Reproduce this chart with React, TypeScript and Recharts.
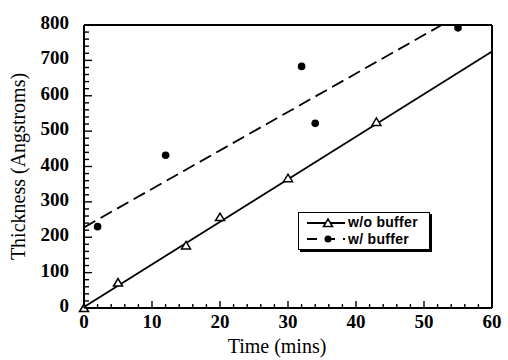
import React from 'react';
import { ComposedChart, XAxis, YAxis, Scatter, Line, Legend } from 'recharts';

// Measured points
const woTime = [0, 5, 15, 20, 30, 43];
const woThick = [0, 72, 177, 257, 367, 526];
const wTime = [2, 12, 32, 34, 55];
const wThick = [230, 432, 683, 522, 792];
// Fit lines (endpoints)
const woFitTime = [0, 60];
const woFitThick = [3, 725];
const wFitTime = [0, 52.6];
const wFitThick = [228, 800];
// Tick labels
const xTickLabels = [0, 10, 20, 30, 40, 50, 60];
const yTickLabels = [0, 100, 200, 300, 400, 500, 600, 700, 800];
const xAllTicks = Array.from({ length: 31 }, (_, i) => i * 2);
const yAllTicks = Array.from({ length: 41 }, (_, i) => i * 20);

const seriesNames = ['w/o buffer', 'w/ buffer'];

const woData = woTime.map((x, i) => ({ x, y: woThick[i] }));
const wData = wTime.map((x, i) => ({ x, y: wThick[i] }));
const woFit = woFitTime.map((x, i) => ({ x, y: woFitThick[i] }));
const wFit = wFitTime.map((x, i) => ({ x, y: wFitThick[i] }));

const SERIF = "'Liberation Serif','Times New Roman',serif";
const SANS = "'Liberation Sans',Arial,sans-serif";
const MAJOR = 7;
const MINOR = 4;
const TW = 1.4;

const BottomTick = (p: any) => {
  const v = p.payload.value;
  const major = xTickLabels.includes(v);
  return (
    <g>
      <line x1={p.x} x2={p.x} y1={p.y} y2={p.y - (major ? MAJOR : MINOR)} stroke="#000" strokeWidth={TW} />
      {major && (
        <text x={p.x} y={p.y + 20} textAnchor="middle" fontFamily={SERIF} fontWeight="bold" fontSize={19} fill="#000">
          {v}
        </text>
      )}
    </g>
  );
};
const TopTick = (p: any) => {
  const v = p.payload.value;
  const major = xTickLabels.includes(v);
  return <line x1={p.x} x2={p.x} y1={p.y} y2={p.y + (major ? MAJOR : MINOR)} stroke="#000" strokeWidth={TW} />;
};
const LeftTick = (p: any) => {
  const v = p.payload.value;
  const major = yTickLabels.includes(v);
  return (
    <g>
      <line x1={p.x} x2={p.x + (major ? MAJOR + 1 : MINOR + 1)} y1={p.y} y2={p.y} stroke="#000" strokeWidth={TW} />
      {major && (
        <text x={p.x - 15} y={p.y + 4} textAnchor="end" fontFamily={SERIF} fontWeight="bold" fontSize={19} fill="#000">
          {v}
        </text>
      )}
    </g>
  );
};
const RightTick = (p: any) => {
  const v = p.payload.value;
  const major = yTickLabels.includes(v);
  return <line x1={p.x} x2={p.x - (major ? MAJOR : MINOR)} y1={p.y} y2={p.y} stroke="#000" strokeWidth={TW} />;
};

const Triangle = (p: any) => {
  const { cx, cy } = p;
  if (cx == null || cy == null) return <g />;
  return (
    <polygon
      points={`${cx - 4.5},${cy + 3.5} ${cx + 4.5},${cy + 3.5} ${cx},${cy - 4}`}
      fill="#fff"
      stroke="#000"
      strokeWidth={1.5}
    />
  );
};
const Dot = (p: any) => {
  const { cx, cy } = p;
  if (cx == null || cy == null) return <g />;
  return <circle cx={cx} cy={cy} r={3.8} fill="#000" />;
};

const XTitle = (props: any) => {
  const vb = props.viewBox;
  return (
    <text x={vb.x + vb.width / 2 - 11} y={vb.y + 45} textAnchor="middle" fontFamily={SERIF} fontSize={20} fill="#000">
      Time (mins)
    </text>
  );
};
const YTitle = (props: any) => {
  const vb = props.viewBox;
  const cx = 18;
  const cy = vb.y + vb.height / 2;
  return (
    <text
      x={cx}
      y={cy}
      transform={`rotate(-90 ${cx} ${cy})`}
      textAnchor="middle"
      dominantBaseline="central"
      fontFamily={SERIF}
      fontSize={20}
      fill="#000"
    >
      Thickness (Angstroms)
    </text>
  );
};

const LegendBox = () => (
  <div
    style={{
      boxSizing: 'border-box',
      width: 132,
      height: 38,
      border: '1.5px solid #000',
      boxShadow: '2px 2px 0 #000',
      background: '#fff',
      fontFamily: SANS,
      fontWeight: 'bold',
      fontSize: 14,
      color: '#000',
      paddingTop: 1,
    }}
  >
    <div style={{ display: 'flex', alignItems: 'center', height: 17 }}>
      <svg width={48} height={14} style={{ display: 'block' }}>
        <line x1={8} x2={46} y1={7} y2={7} stroke="#000" strokeWidth={1.8} />
        <polygon points="24.5,10.5 33.5,10.5 29,3" fill="#fff" stroke="#000" strokeWidth={1.5} />
      </svg>
      <span style={{ marginLeft: 1, lineHeight: '15px', letterSpacing: 0.3 }}>{seriesNames[0]}</span>
    </div>
    <div style={{ display: 'flex', alignItems: 'center', height: 16 }}>
      <svg width={48} height={14} style={{ display: 'block' }}>
        <line x1={8} x2={46} y1={7} y2={7} stroke="#000" strokeWidth={1.8} strokeDasharray="10 8" />
        <circle cx={29} cy={7} r={3.5} fill="#000" />
      </svg>
      <span style={{ marginLeft: 1, lineHeight: '15px', letterSpacing: 0.3 }}>{seriesNames[1]}</span>
    </div>
  </div>
);

export default function App() {
  return (
    <div style={{ position: 'absolute', left: 0, top: 0, width: 508, height: 360, background: '#fff' }}>
      <ComposedChart width={508} height={360} margin={{ top: 24, right: 15, bottom: 0, left: 0 }}>
        <XAxis
          dataKey="x"
          type="number"
          domain={[0, 60]}
          ticks={xAllTicks}
          interval={0}
          tickSize={0}
          tickMargin={0}
          tickLine={false}
          tick={<BottomTick />}
          height={52}
          axisLine={{ stroke: '#000', strokeWidth: 2 }}
          label={XTitle}
        />
        <XAxis
          xAxisId="top"
          orientation="top"
          dataKey="x"
          type="number"
          domain={[0, 60]}
          ticks={xAllTicks}
          interval={0}
          tickSize={0}
          tickMargin={0}
          tickLine={false}
          tick={<TopTick />}
          height={1}
          axisLine={{ stroke: '#000', strokeWidth: 2 }}
        />
        <YAxis
          dataKey="y"
          type="number"
          domain={[0, 800]}
          ticks={yAllTicks}
          interval={0}
          tickSize={0}
          tickMargin={0}
          tickLine={false}
          tick={<LeftTick />}
          width={84}
          axisLine={{ stroke: '#000', strokeWidth: 2 }}
          label={YTitle}
        />
        <YAxis
          yAxisId="r"
          orientation="right"
          dataKey="y"
          type="number"
          domain={[0, 800]}
          ticks={yAllTicks}
          interval={0}
          tickSize={0}
          tickMargin={0}
          tickLine={false}
          tick={<RightTick />}
          width={1}
          axisLine={{ stroke: '#000', strokeWidth: 2 }}
        />
        <Line
          data={woFit}
          dataKey="y"
          type="linear"
          stroke="#000"
          strokeWidth={1.8}
          dot={false}
          activeDot={false}
          isAnimationActive={false}
          legendType="none"
        />
        <Line
          data={wFit}
          dataKey="y"
          type="linear"
          stroke="#000"
          strokeWidth={1.8}
          strokeDasharray="13 6"
          dot={false}
          activeDot={false}
          isAnimationActive={false}
          legendType="none"
        />
        <Scatter name={seriesNames[0]} data={woData} dataKey="y" shape={Triangle} isAnimationActive={false} />
        <Scatter name={seriesNames[1]} data={wData} dataKey="y" shape={Dot} isAnimationActive={false} />
        <Legend
          layout="horizontal"
          verticalAlign="middle"
          align="center"
          content={() => <LegendBox />}
          wrapperStyle={{ left: 298, top: 212, width: 134, height: 40 }}
        />
      </ComposedChart>
    </div>
  );
}
